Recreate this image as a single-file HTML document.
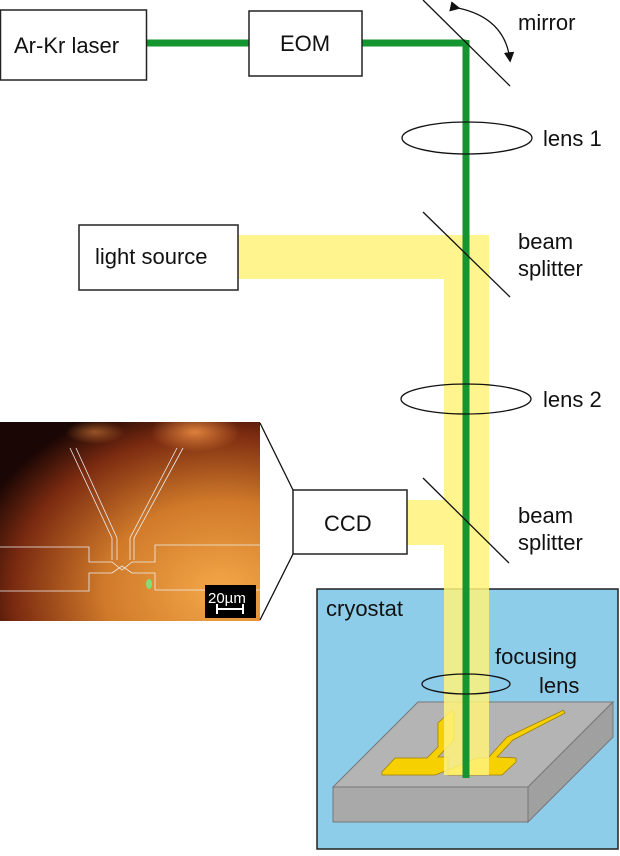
<!DOCTYPE html>
<html><head><style>
body{margin:0;background:#fff;}
svg text{font-family:"Liberation Sans",Arial,sans-serif;fill:#111;font-size:22px;}
</style></head><body>
<svg width="620" height="851" viewBox="0 0 620 851" xmlns="http://www.w3.org/2000/svg">
<defs>
<radialGradient id="ph" cx="0.85" cy="0.85" r="1.0">
<stop offset="0" stop-color="#f4a848"/><stop offset="0.45" stop-color="#d07a2a"/><stop offset="0.8" stop-color="#7a2a10"/><stop offset="1" stop-color="#1a0604"/>
</radialGradient>
<radialGradient id="pt" cx="0.5" cy="0.5" r="0.5">
<stop offset="0" stop-color="#e88a40" stop-opacity="0.9"/><stop offset="1" stop-color="#e88a40" stop-opacity="0"/>
</radialGradient>
<clipPath id="pc"><rect x="0" y="422" width="260" height="199"/></clipPath>
<marker id="ah" markerWidth="8" markerHeight="8" refX="6" refY="4" orient="auto"><path d="M0,0 L8,4 L0,8 z" fill="#111"/></marker>
</defs>
<rect x="317" y="589" width="301" height="260" fill="#8ecdea" stroke="#222" stroke-width="1.5"/>
<text x="326" y="616">cryostat</text>
<text x="495" y="664">focusing</text>
<text x="539" y="693">lens</text>
<polygon points="333,787 528,787 613,702 418,702" fill="#b4b4b4" stroke="#777" stroke-width="1"/>
<polygon points="333,787 528,787 528,822 333,822" fill="#a9a9a9" stroke="#777" stroke-width="1"/>
<polygon points="528,787 613,702 613,737 528,822" fill="#a0a0a0" stroke="#777" stroke-width="1"/>
<polygon points="452,710 454,712 454,740 438,757 448,757 448,770 435,775 382,775 382,772 395,758 427,758 438,747 438,723" fill="#f7d000" stroke="#a08000" stroke-width="0.8"/>
<polygon points="563,710 565,713 513,740 497,757 516,758 516,762 502,775 448,775 448,770 477,758 488,758 507,737 560,712" fill="#f7d000" stroke="#a08000" stroke-width="0.8"/>
<path d="M238,235 H489 V775 H444 V279 H238 Z" fill="#fff27a" opacity="0.85"/>
<rect x="407" y="500" width="37" height="45" fill="#fff27a" opacity="0.85"/>
<line x1="146" y1="43" x2="466" y2="43" stroke="#14952f" stroke-width="7"/>
<line x1="466" y1="40" x2="466" y2="778" stroke="#14952f" stroke-width="7"/>
<rect x="0.5" y="10" width="146" height="70" fill="#fff" stroke="#222" stroke-width="1.5"/>
<text x="14" y="53">Ar-Kr laser</text>
<rect x="249" y="11" width="113" height="65" fill="#fff" stroke="#222" stroke-width="1.5"/>
<text x="280" y="51">EOM</text>
<rect x="79" y="225" width="159" height="65" fill="#fff" stroke="#222" stroke-width="1.5"/>
<text x="95" y="264">light source</text>
<rect x="293" y="490" width="114" height="64" fill="#fff" stroke="#222" stroke-width="1.5"/>
<text x="324" y="531">CCD</text>
<line x1="423" y1="0" x2="510" y2="86" stroke="#111" stroke-width="1.3"/>
<path d="M458,8 Q505,18 510,60" fill="none" stroke="#111" stroke-width="1.3" marker-start="url(#ah)" marker-end="url(#ah)"/>
<text x="518" y="30">mirror</text>
<line x1="423" y1="212" x2="510" y2="297" stroke="#111" stroke-width="1.3"/>
<text x="518" y="249">beam</text>
<text x="518" y="276">splitter</text>
<line x1="423" y1="478" x2="509" y2="563" stroke="#111" stroke-width="1.3"/>
<text x="518" y="523">beam</text>
<text x="518" y="550">splitter</text>
<ellipse cx="467" cy="138" rx="65" ry="16" fill="none" stroke="#111" stroke-width="1.3"/>
<text x="543" y="146">lens 1</text>
<ellipse cx="466" cy="399" rx="65" ry="15" fill="none" stroke="#111" stroke-width="1.3"/>
<text x="543" y="407">lens 2</text>
<ellipse cx="466" cy="684" rx="44" ry="10" fill="none" stroke="#111" stroke-width="1.3"/>
<g clip-path="url(#pc)">
<rect x="0" y="422" width="260" height="199" fill="url(#ph)"/>
<ellipse cx="195" cy="432" rx="45" ry="20" fill="url(#pt)"/>
<ellipse cx="95" cy="432" rx="30" ry="12" fill="url(#pt)" opacity="0.6"/>
</g>
<g fill="none" stroke="#eee" stroke-width="0.8">
<path d="M70,448 L112,538 V560 M76,448 L117,538 V560 M177,448 L130,538 V560 M183,448 L134,538 V560"/>
<path d="M0,547 H89 V562 H112 L122,570 L132,562 H155 V545 H260"/>
<path d="M0,591 H89 V573 H112 L122,566 L132,573 H155 V590 H260"/>
</g>
<ellipse cx="149" cy="584" rx="3" ry="5" fill="#7fe07a"/>
<rect x="205" y="585" width="51" height="33" fill="#000"/>
<text x="208" y="603" style="fill:#fff;font-size:15px">20µm</text>
<path d="M217,609 H243 M217,604 V614 M243,604 V614" stroke="#fff" stroke-width="2"/>
<line x1="260" y1="423" x2="293" y2="490" stroke="#111" stroke-width="1.3"/>
<line x1="260" y1="620" x2="293" y2="554" stroke="#111" stroke-width="1.3"/>
</svg>
</body></html>
